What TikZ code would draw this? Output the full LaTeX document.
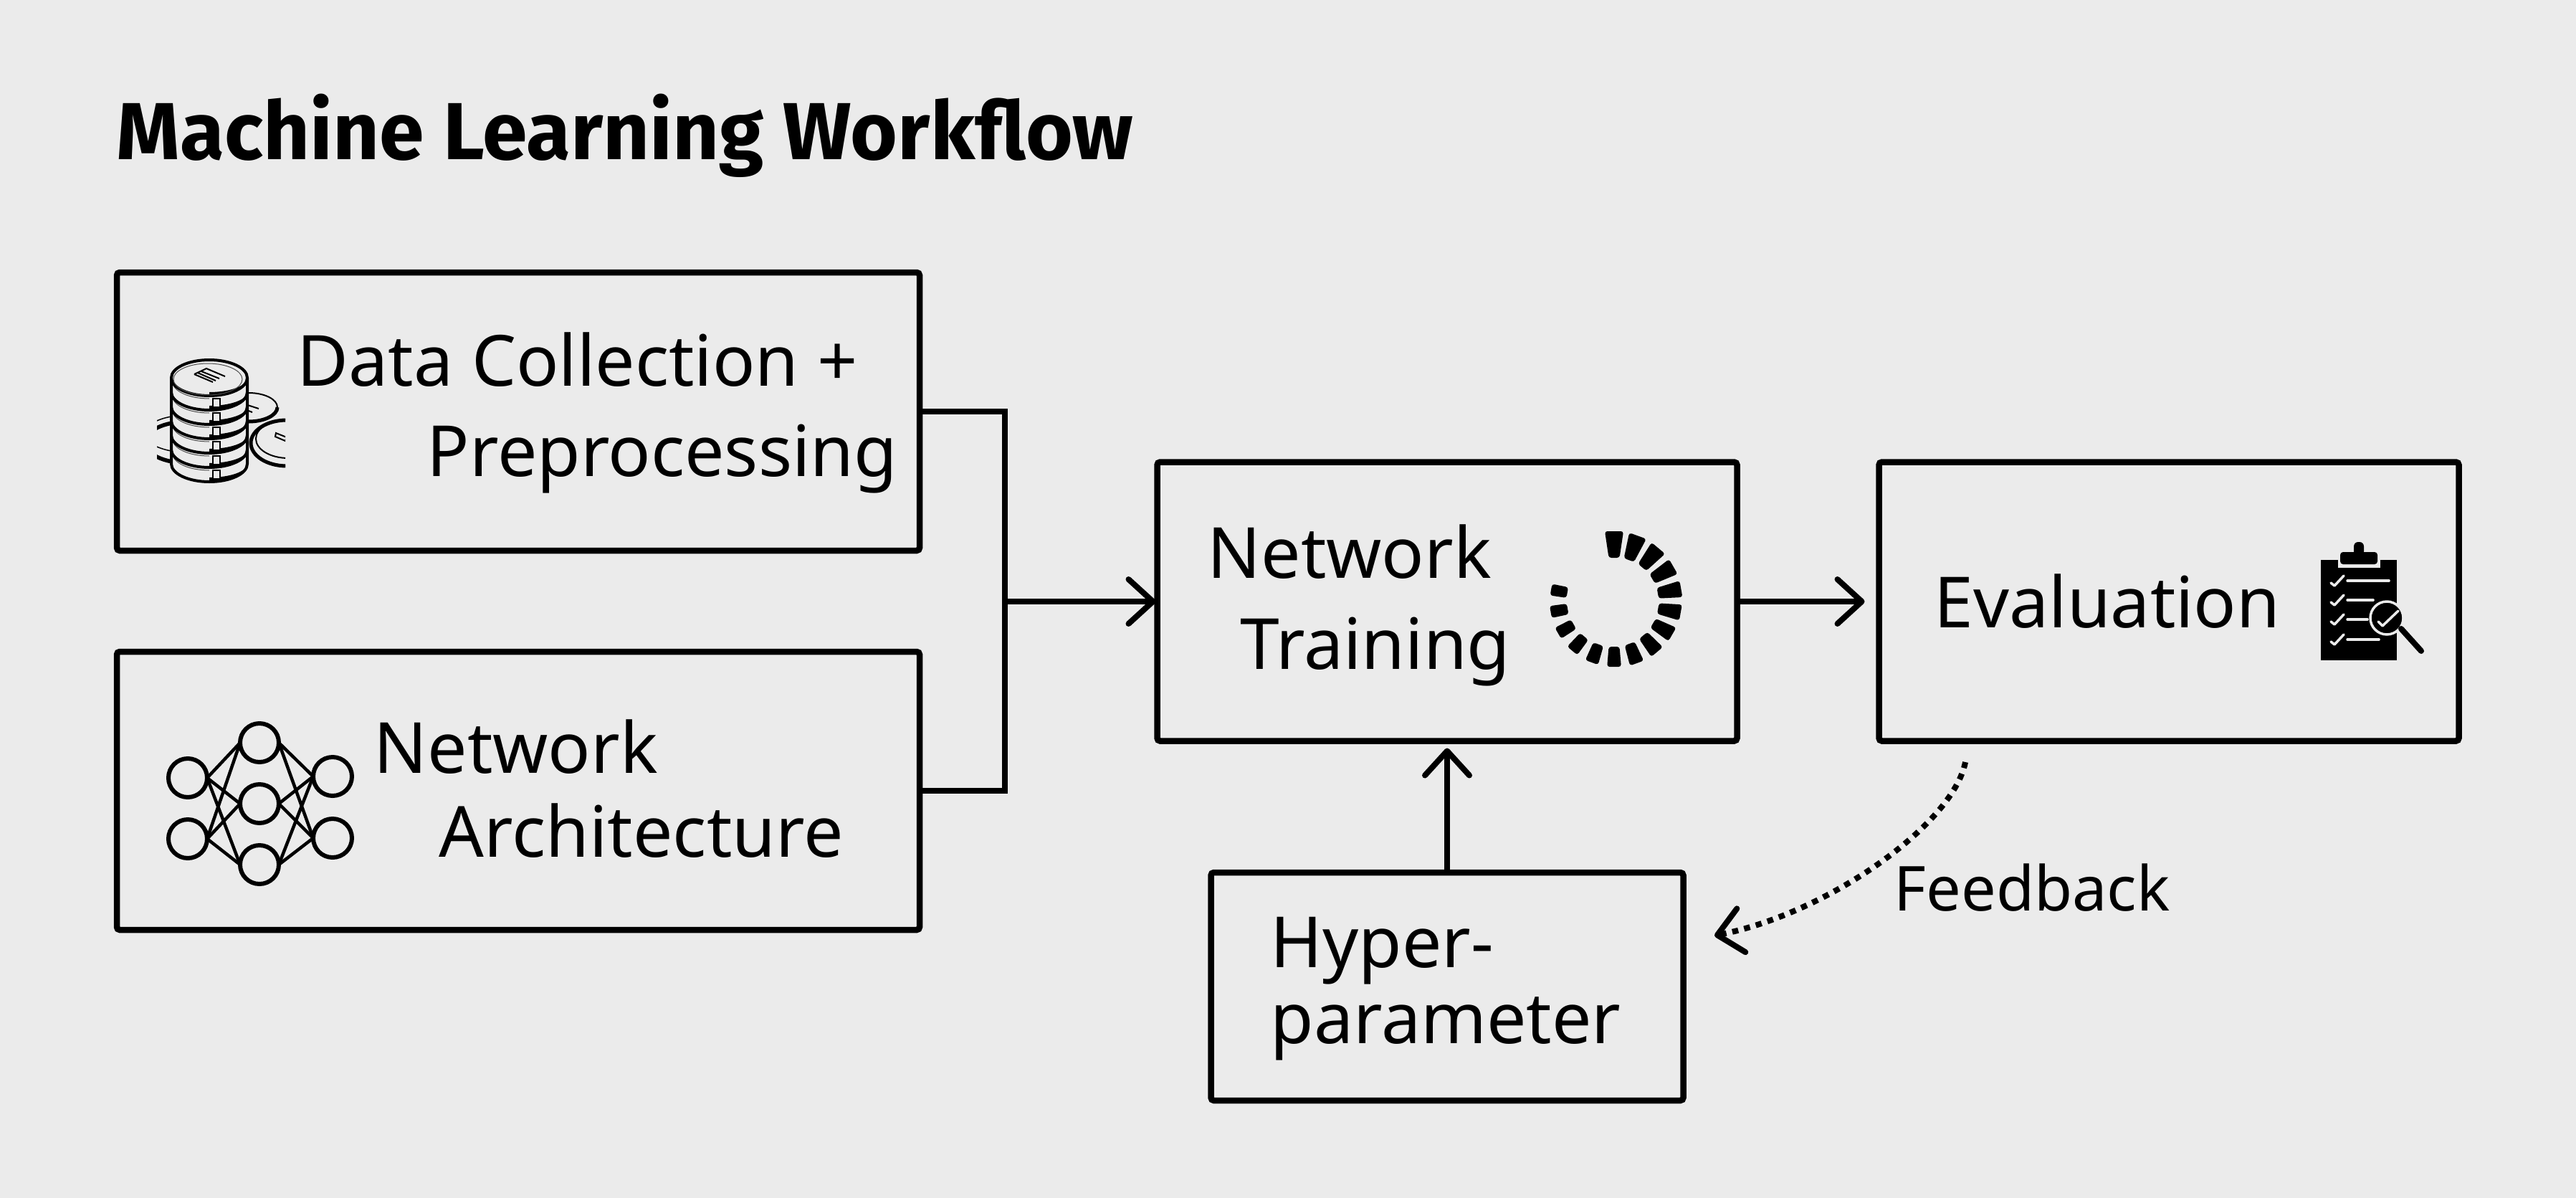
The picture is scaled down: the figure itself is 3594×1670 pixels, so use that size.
\documentclass[tikz,border=0pt]{standalone}
\usepackage{fontspec}
\setmainfont{Noto Sans}
\newfontfamily\titlefont{Fira Sans}
\usetikzlibrary{arrows.meta}
\definecolor{bgcolor}{HTML}{EBEBEB}
\tikzset{
  flowbox/.style={draw=black, line width=0.85mm, rounded corners=0.4mm, inner sep=0pt, outer sep=0pt},
  boxtext/.style={anchor=base west, inner sep=0pt, font=\fontsize{28}{34}\selectfont},
  flowarrow/.style={line width=0.8mm, -{Straight Barb[length=3.4mm,width=6.2mm,round]}},
  neuron/.style={draw=black, circle, line width=0.6mm, minimum size=5.4mm, inner sep=0pt, outer sep=0pt},
  synapse/.style={line width=0.45mm},
  diskline/.style={line width=0.4mm},
  hairline/.style={line width=0.1mm, black!70},
}
\begin{document}
\begin{tikzpicture}[x=0.1mm, y=-0.1mm]
  % Page size and background
  \useasboundingbox (0,0) rectangle (3594,1670);
  \fill[bgcolor] (-10,-10) rectangle (3604,1680);

  % Title
  \node[anchor=base west, inner sep=0pt, font=\fontsize{32.1}{38}\selectfont\titlefont\bfseries] (title) at (162,222) {Machine Learning Workflow};

  % Boxes
  \node[flowbox, minimum width=112mm, minimum height=38.8mm] (collect) at (723,574) {};
  \node[flowbox, minimum width=112mm, minimum height=38.8mm] (arch) at (723,1103) {};
  \node[flowbox, minimum width=80.9mm, minimum height=38.9mm] (train) at (2019,839) {};
  \node[flowbox, minimum width=80.9mm, minimum height=38.9mm] (eval) at (3026,839) {};
  \node[flowbox, minimum width=65.9mm, minimum height=31.8mm] (hyper) at (2019,1376) {};

  % Box labels, line by line
  \node[boxtext] (collecta) at (414,538) {Data Collection +};
  \node[boxtext] (collectb) at (595,664) {Preprocessing};
  \node[boxtext] (archa) at (521,1078) {Network};
  \node[boxtext] (archb) at (612,1195) {Architecture};
  \node[boxtext] (traina) at (1684,806) {Network};
  \node[boxtext] (trainb) at (1730,933) {Training};
  \node[boxtext] (evala) at (2698,875) {Evaluation};
  \node[boxtext] (hypera) at (1772,1349) {Hyper-};
  \node[boxtext] (hyperb) at (1772,1455) {parameter};
  \node[boxtext, font=\fontsize{24.6}{30}\selectfont] (feedback) at (2642,1270) {Feedback};

  % Connectors
  \coordinate (merge) at (1402,839);
  \draw[line width=0.85mm] (collect.east) -| (merge);
  \draw[line width=0.85mm] (arch.east) -| (merge);
  \draw[flowarrow, shorten >=0.2mm] (merge) -- (train.west);
  \draw[flowarrow, shorten >=2mm] (train.east) -- (eval.west);
  \draw[flowarrow, shorten >=1mm] (hyper.north) -- (train.south);

  % Feedback curve
  \coordinate (fbstart) at (2742,1063);
  \coordinate (fbend) at (2392,1305);
  \draw[flowarrow, dash pattern=on 0.85mm off 0.85mm] (fbstart) .. controls (2725,1150) and (2550,1274) .. (fbend);

  % Database icon: coins behind the stack
  \begin{scope}
    \clip (219,500) rectangle (398,690);
    \draw[diskline, fill=bgcolor, line width=0.2mm] (347,568) ellipse[x radius=40, y radius=20];
    \draw[line width=0.5mm] (307,568) arc[start angle=180, end angle=0, x radius=40, y radius=20];
    \draw[line width=0.2mm] (333,561) -- (361,570) (331,567) -- (352,575);
    \draw[line width=0.55mm, fill=bgcolor] (262,617) ellipse[x radius=60, y radius=29];
    \draw[line width=0.15mm] (262,605) ellipse[x radius=60, y radius=26];
    \draw[line width=0.5mm, fill=bgcolor] (400,618) ellipse[x radius=50, y radius=32];
    \draw[line width=0.2mm] (402,612) ellipse[x radius=45, y radius=27];
    \fill (352,620) arc[start angle=180, end angle=90, x radius=50, y radius=28] -- (402,652) arc[start angle=90, end angle=180, x radius=50, y radius=32] -- cycle;
    \draw[line width=0.2mm] (385,604) -- (400,610) -- (398,615) -- (384,609) -- cycle;
  \end{scope}

  % Database icon: stack of disks
  \foreach \cy in {627,607,...,527} {
    \draw[diskline, fill=bgcolor] (239,\cy) -- ++(0,20) arc[start angle=180, end angle=0, x radius=53, y radius=25] -- ++(0,-20);
    \fill (292,\cy+45) arc[start angle=90, end angle=0, x radius=53, y radius=25] arc[start angle=0, end angle=90, x radius=53, y radius=19];
    \draw[hairline] (241,\cy+6) arc[start angle=180, end angle=90, x radius=51, y radius=23];
    \draw[line width=0.25mm, fill=bgcolor] (297,\cy+29) rectangle (307,\cy+41);
  }
  \draw[diskline, fill=bgcolor] (292,527) ellipse[x radius=53, y radius=25];
  \fill (292,552) arc[start angle=90, end angle=0, x radius=53, y radius=25] arc[start angle=0, end angle=90, x radius=53, y radius=20];
  \draw[hairline] (290,529) ellipse[x radius=48, y radius=22];
  \draw[line width=0.2mm] (271,522) -- (288,514) -- (314,525) (271,522) -- (297,533) (276,520) -- (301,531) (281,518) -- (306,528);

  % Neural network icon
  \node[neuron] (in1) at (262,1085) {};
  \node[neuron] (in2) at (262,1170) {};
  \node[neuron] (mid1) at (362,1036) {};
  \node[neuron] (mid2) at (362,1121) {};
  \node[neuron] (mid3) at (362,1206) {};
  \node[neuron] (out1) at (464,1083) {};
  \node[neuron] (out2) at (464,1169) {};
  \foreach \a in {in1,in2} {
    \foreach \b in {mid1,mid2,mid3} {
      \draw[synapse] (\a.east) -- (\b.west);
    }
  }
  \foreach \a in {mid1,mid2,mid3} {
    \foreach \b in {out1,out2} {
      \draw[synapse] (\a.east) -- (\b.west);
    }
  }

  % Spinner icon
  \coordinate (spin) at (2252,838);
  \foreach \i in {0,...,14} {
    \pgfmathsetmacro{\ang}{90-20*\i}
    \pgfmathsetmacro{\ro}{97-0.55*\i}
    \pgfmathsetmacro{\ri}{60+0.45*\i}
    \pgfmathsetmacro{\wo}{13-0.35*\i}
    \begin{scope}[shift={(spin)}, rotate=\ang]
      \fill[rounded corners=0.35mm] (\ri,-7.5) -- (\ro,-\wo) -- (\ro,\wo) -- (\ri,7.5) -- cycle;
    \end{scope}
  }

  % Clipboard icon
  \fill[black] (3238,781) rectangle (3344,921);
  \fill[bgcolor] (3262,781) rectangle (3321,792);
  \fill[black, rounded corners=0.4mm] (3265,787) -- (3265,770) -- (3284,770) -- (3317,770) -- (3317,787) -- cycle;
  \fill[black, rounded corners=0.6mm] (3284,775) -- (3284,756) -- (3298,756) -- (3298,775) -- cycle;
  \foreach \ly/\lx in {810/3333,837/3311,864/3303,892/3319} {
    \draw[bgcolor, line width=0.35mm, line cap=round, line join=round] (3252,\ly+3) -- (3257,\ly+7) -- (3270,\ly-7);
    \draw[bgcolor, line width=0.35mm, line cap=round] (3275,\ly) -- (\lx,\ly);
  }
  % Magnifier on the clipboard
  \draw[bgcolor, line width=0.35mm, fill=black] (3330,862) circle[radius=23];
  \draw[bgcolor, line width=0.35mm, line cap=round, line join=round] (3318,867) -- (3324,873) -- (3346,852);
  \draw[black, line width=0.8mm, line cap=round] (3350,877) -- (3378,908);
\end{tikzpicture}
\end{document}
